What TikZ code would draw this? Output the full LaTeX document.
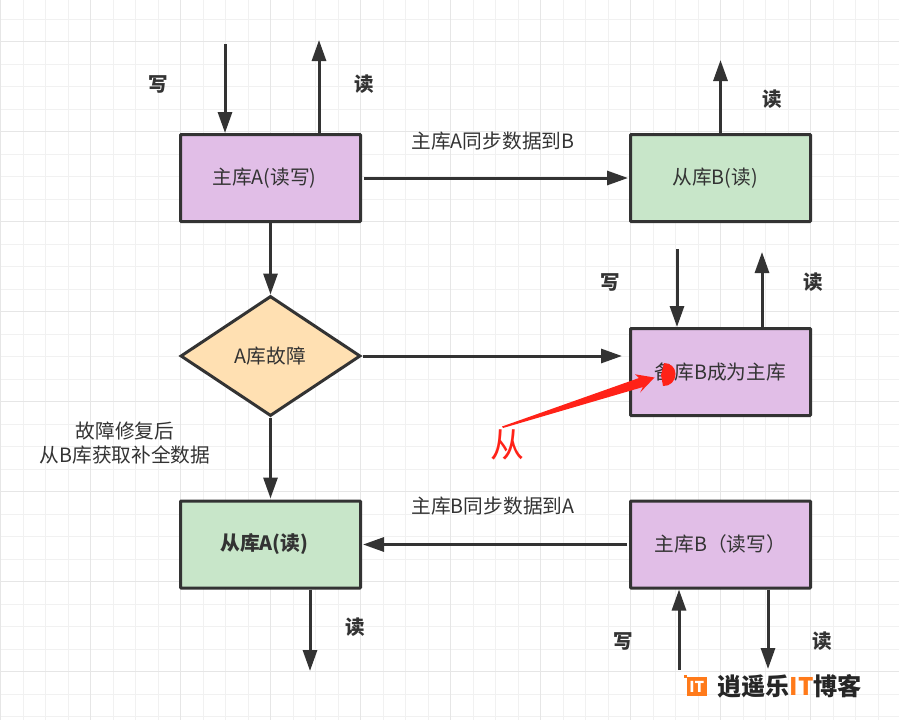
\documentclass[tikz,border=0pt]{standalone}
\usepackage{fontspec}
\setmainfont{Noto Sans CJK SC}
\usetikzlibrary{arrows.meta,shapes.geometric}
\definecolor{ink}{HTML}{333333}
\definecolor{purplefill}{HTML}{E1BEE7}
\definecolor{greenfill}{HTML}{C8E6C9}
\definecolor{orangefill}{HTML}{FFE0B2}
\definecolor{gridminor}{HTML}{F1F1F1}
\definecolor{gridmajor}{HTML}{E6E6E6}
\definecolor{redmark}{HTML}{FF2218}
\definecolor{logoorange}{HTML}{FF7A1A}
\tikzset{
  x=1pt,y=-1pt,
  base/.style={font=\fontsize{19.7}{24}\selectfont,text=ink,inner sep=0pt},
  boxnode/.style={base,draw=ink,line width=3pt,rounded corners=0.8pt,minimum width=180pt,minimum height=87pt},
  purplebox/.style={boxnode,fill=purplefill},
  greenbox/.style={boxnode,fill=greenfill},
  flow/.style={draw=ink,line width=3pt,-{Triangle[length=21pt,width=14pt]}},
  boldlabel/.style={base,font=\fontsize{19.5}{24}\selectfont\bfseries},
  plainlabel/.style={base,align=center},
}
\begin{document}
\begin{tikzpicture}
\useasboundingbox (0,0) rectangle (899,720);
\fill[white] (0,0) rectangle (899,720);
% grid
\foreach \k in {0,...,40} {\draw[gridminor,line width=1.2pt] ({0.7+22.5*\k},0) -- ({0.7+22.5*\k},720);}
\foreach \k in {0,...,32} {\draw[gridminor,line width=1.2pt] (0,{19.2+22.5*\k}) -- (899,{19.2+22.5*\k});}
\foreach \k in {0,...,9} {\draw[gridmajor,line width=1.2pt] ({0.7+90*\k},0) -- ({0.7+90*\k},720);}
\foreach \k in {0,...,7} {\draw[gridmajor,line width=1.2pt] (0,{41.7+90*\k}) -- (899,{41.7+90*\k});}
% nodes
\node[purplebox] (masterA) at (270.5,178) {主库A(读写)\hspace*{12pt}};
\node[greenbox] (slaveB) at (720.5,178) {从库B(读)\hspace*{11pt}};
\node[base,diamond,draw=ink,line width=3pt,fill=orangefill,aspect=1.5,minimum width=180pt,minimum height=120pt] (fault) at (270.5,356) {A库故障};
\node[purplebox] (promoted) at (720.5,372) {备库B成为主库};
\node[greenbox,font=\fontsize{19.7}{24}\selectfont\bfseries] (slaveA) at (270.5,544.5) {从库A(读)\hspace*{12pt}};
\node[purplebox] (masterB) at (720.5,544.5) {主库B（读写）};
% free ends
\coordinate (wAin) at (225,44);
\coordinate (rAout) at (319,40);
\coordinate (rBout) at (720,60);
\coordinate (wPin) at (677,249);
\coordinate (rPout) at (762,252);
\coordinate (rSAout) at (310,671);
\coordinate (wMBin) at (679,670);
\coordinate (rMBout) at (768,669);
% connectors
\draw[flow] (wAin) -- (wAin |- masterA.north);
\draw[flow] (masterA.north -| rAout) -- (rAout);
\draw[flow,shorten <=2pt,shorten >=1pt] (masterA.east) -- (slaveB.west);
\draw[flow] (slaveB.north) -- (slaveB.north |- rBout);
\draw[flow] (masterA.south) -- (fault.north);
\draw[flow,shorten <=1pt,shorten >=7pt] (fault.east) -- (fault.east -| promoted.west);
\draw[flow] (wPin) -- (wPin |- promoted.north);
\draw[flow] (promoted.north -| rPout) -- (rPout);
\draw[flow,shorten >=1pt] (fault.south) -- (slaveA.north);
\draw[flow,shorten <=2pt,shorten >=1pt] (masterB.west) -- (slaveA.east);
\draw[flow] (slaveA.south -| rSAout) -- (rSAout);
\draw[flow] (wMBin) -- (wMBin |- masterB.south);
\draw[flow] (masterB.south -| rMBout) -- (rMBout);
% labels
\node[boldlabel] (l1) at (158,84) {写};
\node[boldlabel] (l2) at (364,84) {读};
\node[boldlabel] (l3) at (772,99) {读};
\node[boldlabel] (l4) at (610,282) {写};
\node[boldlabel] (l5) at (813,282) {读};
\node[boldlabel] (l6) at (355,627) {读};
\node[boldlabel] (l7) at (623,641) {写};
\node[boldlabel] (l8) at (822,641) {读};
\node[plainlabel] (t1) at (493,141) {主库A同步数据到B};
\node[plainlabel] (t2) at (493,506) {主库B同步数据到A};
\node[plainlabel] (t3) at (125,443) {故障修复后\\从B库获取补全数据};
% red annotation
\fill[redmark] (675.5,374) .. controls (675.5,367) and (670,363) .. (664,363) -- (661,375) -- (663,386) .. controls (670,386.5) and (675.5,381) .. (675.5,374) -- cycle;
\fill[redmark] (502,426.5) -- (639,378) -- (635,374.3) -- (654.5,377.5) -- (640,392.7) -- (643,387) -- (503,428) -- cycle;
\node[base,text=redmark,font=\fontsize{34}{36}\selectfont] (cong) at (507,445) {从};
% watermark
\fill[logoorange] (687,677) rectangle (706.5,696);
\fill[logoorange] (684,675) rectangle (687,677.5);
\node[inner sep=0pt,text=white,font=\fontsize{15}{15}\selectfont\bfseries] (logo) at (696.7,686.5) {IT};
\node[inner sep=0pt,anchor=west,font=\fontsize{24.2}{25}\selectfont\bfseries,text=black!85] (mark) at (717,686) {逍遥乐\textcolor{logoorange}{IT}博客};
\end{tikzpicture}
\end{document}
